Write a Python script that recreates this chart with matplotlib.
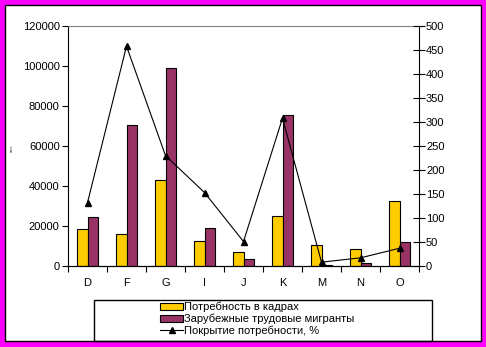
import matplotlib.pyplot as plt
import numpy as np
from matplotlib.patches import Rectangle

plt.rcParams['font.family'] = ['Liberation Sans', 'DejaVu Sans']

categories = ['D', 'F', 'G', 'I', 'J', 'K', 'M', 'N', 'O']
need = [18300, 15800, 42800, 12300, 6800, 24800, 10300, 8300, 32300]
migrants = [24300, 70300, 98800, 18800, 3300, 75300, 500, 1300, 11800]
coverage = [132, 458, 230, 153, 51, 308, 8, 17, 37]

W, H = 486, 347
fig = plt.figure(figsize=(W / 100, H / 100), dpi=100)
fig.patch.set_facecolor('#FF00FF')
fig.patches.append(Rectangle((5 / W, 6 / H), 476 / W, 336 / H, transform=fig.transFigure,
                             facecolor='white', edgecolor='black', lw=1, zorder=-1))

ax = fig.add_axes([68 / W, 81 / H, 351 / W, 240 / H])
x = np.arange(len(categories))
bw = 0.28
ax.bar(x - bw / 2, need, bw, color='#FFCC00', edgecolor='black', lw=0.8,
       label='Потребность в кадрах')
ax.bar(x + bw / 2, migrants, bw, color='#993366', edgecolor='black', lw=0.8,
       label='Зарубежные трудовые мигранты')
ax.set_xlim(-0.5, len(categories) - 0.5)
ax.set_ylim(0, 120000)
ax.set_yticks(range(0, 120001, 20000))
ax.set_xticks(np.arange(-0.5, len(categories), 1))
ax.set_xticklabels([])
ax.set_xticks(x, minor=True)
ax.set_xticklabels(categories, minor=True)
ax.tick_params(axis='x', which='major', length=4, direction='out', width=0.8)
ax.tick_params(axis='x', which='minor', length=0, pad=9, labelsize=8)
ax.tick_params(axis='y', length=4, width=0.8, pad=2, labelsize=8)
ax.spines['top'].set_color('#808080')
ax.spines['right'].set_visible(False)
fig.text(12 / W, 1 - 148 / H, 'чел.', fontsize=3, rotation=90, ha='center', va='center')

ax2 = ax.twinx()
ax2.plot(x, coverage, color='black', lw=0.8, marker='^', ms=5,
         label='Покрытие потребности, %')
ax2.set_ylim(0, 500)
ax2.set_yticks(range(0, 501, 50))
ax2.tick_params(axis='y', direction='inout', length=8, width=0.8, pad=1, labelsize=8)
ax2.spines['top'].set_visible(False)
ax2.spines['left'].set_visible(False)

fig.patches.append(Rectangle((94 / W, 6 / H), 338 / W, 41 / H, transform=fig.transFigure,
                             facecolor='none', edgecolor='black', lw=1))
h1, l1 = ax.get_legend_handles_labels()
h2, l2 = ax2.get_legend_handles_labels()
fig.legend(h1 + h2, l1 + l2, loc='upper left', bbox_to_anchor=(160 / W, 1 - 302 / H),
           frameon=False, fontsize=8, handlelength=2.1, handleheight=0.6,
           handletextpad=0.1, labelspacing=0.1, borderpad=0, borderaxespad=0)

fig.savefig('out.png', dpi=100, facecolor=fig.get_facecolor())
